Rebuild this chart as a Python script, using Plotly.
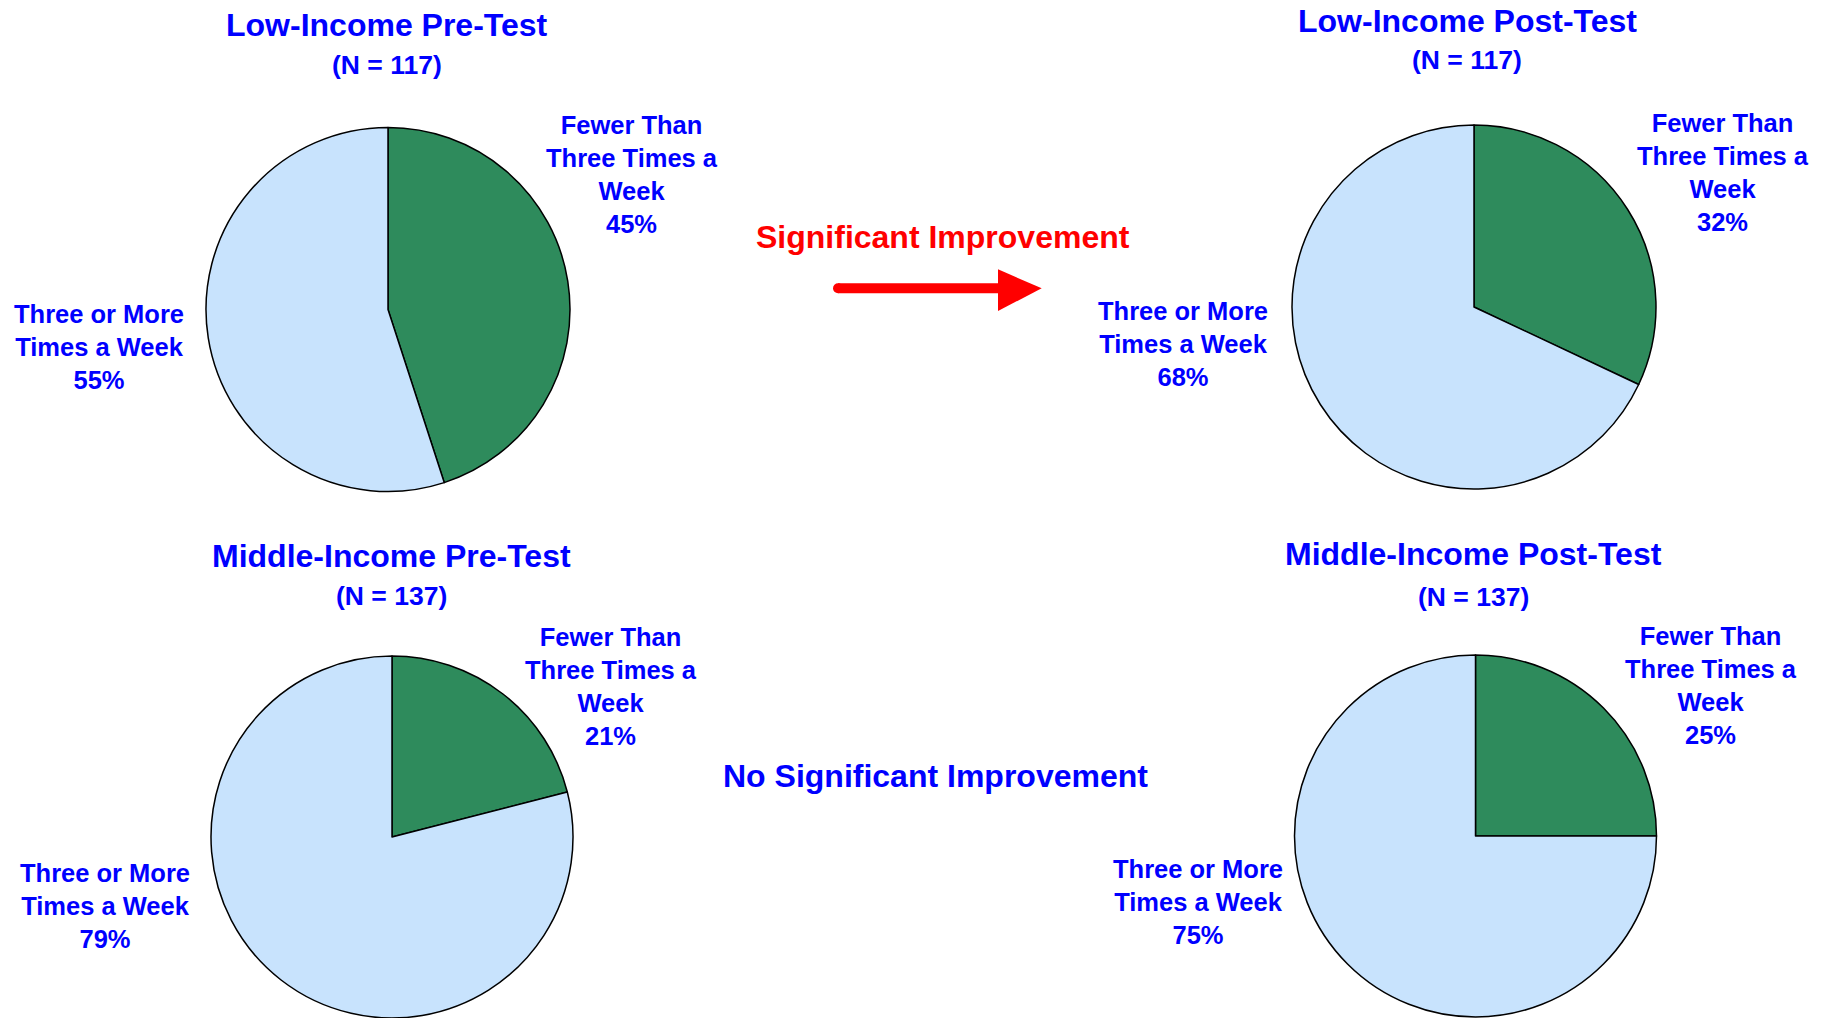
import plotly.graph_objects as go

# ---------------- data ----------------
panel_titles = ["Low-Income Pre-Test", "Low-Income Post-Test",
                "Middle-Income Pre-Test", "Middle-Income Post-Test"]
sample_sizes = [117, 117, 137, 137]
category_labels = ["Fewer Than<br>Three Times a<br>Week", "Three or More<br>Times a Week"]
fewer_than_three = [45, 32, 21, 25]
three_or_more = [55, 68, 79, 75]
comparison_texts = ["Significant Improvement", "No Significant Improvement"]

# ---------------- layout constants (pixels) ----------------
W, H = 1824, 1018
OFF = 0  # body margin removed via post_script
BLUE = "#0000FF"
RED = "#FF0000"
GREEN = "#2E8B5C"
LIGHT = "#C8E3FD"
FONT = "Liberation Sans, Arial, sans-serif"

def px(x):
    return (x - OFF) / W

def py(y):
    return 1 - (y - OFF) / H

# pie centres and radii
pie_geo = [(388, 309.5, 182), (1474, 307, 182), (392, 837, 181), (1475.5, 836, 181)]
# title centre (x, y), N-line centre y
title_pos = [(386.5, 25, 65), (1467, 21, 60), (391.7, 556, 596), (1473, 553.5, 597)]
# label block centres: fewer (x, y), three-or-more (x, y)
fewer_pos = [(632, 174), (1723, 172.5), (611, 686), (1711, 685)]
three_pos = [(99, 346.8), (1183, 344), (105, 906), (1198, 902)]

fig = go.Figure()
annotations = []

for i in range(4):
    cx, cy, r = pie_geo[i]
    y0 = max(0.0, py(cy + r))
    y1 = min(1.0, py(cy - r))
    fig.add_trace(go.Pie(
        values=[fewer_than_three[i], three_or_more[i]],
        labels=["Fewer Than Three Times a Week", "Three or More Times a Week"],
        sort=False,
        direction="clockwise",
        rotation=0,
        marker=dict(colors=[GREEN, LIGHT], line=dict(color="black", width=1.5)),
        textinfo="none",
        hoverinfo="label+percent",
        showlegend=False,
        domain=dict(x=[px(cx - r), px(cx + r)], y=[y0, y1]),
    ))

    tx, ty, ny = title_pos[i]
    annotations.append(dict(x=px(tx), y=py(ty), xref="paper", yref="paper",
                            text=panel_titles[i], showarrow=False,
                            xanchor="center", yanchor="middle",
                            font=dict(family=FONT, size=32, color=BLUE, weight="bold")))
    annotations.append(dict(x=px(tx), y=py(ny), xref="paper", yref="paper",
                            text=f"(N = {sample_sizes[i]})", showarrow=False,
                            xanchor="center", yanchor="middle",
                            font=dict(family=FONT, size=26.5, color=BLUE, weight="bold")))
    fx, fy = fewer_pos[i]
    annotations.append(dict(x=px(fx), y=py(fy), xref="paper", yref="paper",
                            text=f"{category_labels[0]}<br>{fewer_than_three[i]}%",
                            showarrow=False, align="center",
                            xanchor="center", yanchor="middle",
                            font=dict(family=FONT, size=25.5, color=BLUE, weight="bold")))
    hx, hy = three_pos[i]
    annotations.append(dict(x=px(hx), y=py(hy), xref="paper", yref="paper",
                            text=f"{category_labels[1]}<br>{three_or_more[i]}%",
                            showarrow=False, align="center",
                            xanchor="center", yanchor="middle",
                            font=dict(family=FONT, size=25.5, color=BLUE, weight="bold")))

annotations.append(dict(x=px(943), y=py(237.5), xref="paper", yref="paper",
                        text=comparison_texts[0], showarrow=False,
                        xanchor="center", yanchor="middle",
                        font=dict(family=FONT, size=32, color=RED, weight="bold")))
annotations.append(dict(x=px(935), y=py(776), xref="paper", yref="paper",
                        text=comparison_texts[1], showarrow=False,
                        xanchor="center", yanchor="middle",
                        font=dict(family=FONT, size=32, color=BLUE, weight="bold")))

# red arrow
shapes = [
    dict(type="line", xref="paper", yref="paper",
         x0=px(838), y0=py(288.3), x1=px(1000), y1=py(288.3),
         line=dict(color=RED, width=10)),
    dict(type="circle", xref="paper", yref="paper",
         x0=px(833), y0=py(293.3), x1=px(843), y1=py(283.3),
         fillcolor=RED, line=dict(width=0)),
    dict(type="path", xref="paper", yref="paper",
         path=f"M {px(998)} {py(269.3)} L {px(1041.7)} {py(288.3)} L {px(998)} {py(311)} Z",
         fillcolor=RED, line=dict(width=0)),
]

fig.update_layout(
    width=W, height=H,
    margin=dict(l=0, r=0, t=0, b=0),
    paper_bgcolor="white",
    plot_bgcolor="white",
    annotations=annotations,
    shapes=shapes,
)

fig.write_html("out.html",
               config={"displayModeBar": False},
               post_script="document.body.style.margin='0px';")
